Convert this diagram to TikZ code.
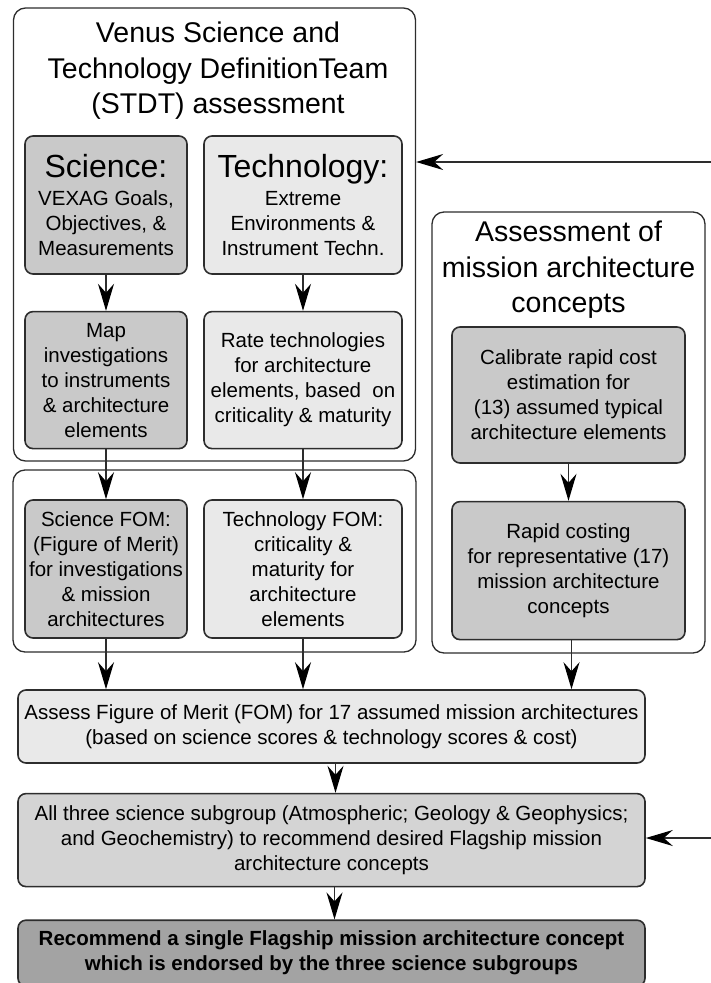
\documentclass[tikz,border=0pt]{standalone}
\usepackage{fontspec}
\setmainfont{Liberation Sans}
\usepackage{tikz}
\usetikzlibrary{positioning,arrows.meta}
\usepackage{xcolor}

\definecolor{edgegray}{RGB}{45,45,45}
\definecolor{darkfill}{RGB}{201,201,201}
\definecolor{lightfill}{RGB}{233,233,233}
\definecolor{midfill}{RGB}{212,212,212}
\definecolor{boldfill}{RGB}{163,163,163}
\newcommand{\flowfont}{\fontsize{20.5}{25}\selectfont}
\newcommand{\groupfont}{\fontsize{28.5}{35.5}\selectfont}
\newcommand{\bigfont}{\fontsize{32}{34}\selectfont}

\begin{document}
\begin{tikzpicture}[x=1pt, y=-1pt,
    darkbox/.style={rectangle, draw=edgegray, line width=1.6pt, fill=darkfill,
                    rounded corners=8pt, align=center, inner sep=2pt, font=\flowfont},
    lightbox/.style={darkbox, fill=lightfill},
    groupbox/.style={rectangle, draw=edgegray, line width=1.3pt, rounded corners=12pt},
    grouptitle/.style={align=center, font=\groupfont},
    arrow/.style={-{Stealth[length=27pt, width=16pt, inset=9pt, color=black]}, line width=1.2pt, draw=edgegray}
]
    \useasboundingbox (0,0) rectangle (711,983);

    % group frames
    \node[groupbox, minimum width=402pt, minimum height=453pt] (stdt) at (214.5,234.5) {};
    \node[groupbox, minimum width=403pt, minimum height=182pt] (fomgrp) at (214.5,561) {};
    \node[groupbox, minimum width=273pt, minimum height=441pt] (archgrp) at (568.5,432.5) {};

    \node[grouptitle] (stdttitle) at (218,71) {Venus Science and\\Technology DefinitionTeam\\(STDT) assessment};
    \node[grouptitle] (archtitle) at (568.5,270) {Assessment of\\mission architecture\\concepts};

    % STDT column boxes
    \node[darkbox, minimum width=162pt, minimum height=138pt] (sci) at (106,205)
        {{\bigfont Science:}\\[3pt] VEXAG Goals,\\Objectives, \&\\Measurements};
    \node[lightbox, minimum width=198pt, minimum height=138pt] (tech) at (303,205)
        {{\bigfont Technology:}\\[3pt] Extreme\\Environments \&\\Instrument Techn.};
    \node[darkbox, minimum width=162pt, minimum height=137pt, below=36pt of sci] (map)
        {Map\\investigations\\to instruments\\\& architecture\\elements};
    \node[lightbox, minimum width=198pt, minimum height=137pt, below=36pt of tech] (rate)
        {Rate technologies\\for architecture\\elements, based\ \ on\\criticality \& maturity};

    % FOM boxes
    \node[darkbox, minimum width=162pt, minimum height=138pt] (scifom) at (106,569)
        {Science FOM:\\(Figure of Merit)\\for investigations\\\& mission\\architectures};
    \node[lightbox, minimum width=198pt, minimum height=138pt] (techfom) at (303,569)
        {Technology FOM:\\criticality \&\\maturity for\\architecture\\elements};

    % cost boxes
    \node[darkbox, minimum width=233pt, minimum height=136pt] (calib) at (568.5,395)
        {Calibrate rapid cost\\estimation for\\(13) assumed typical\\architecture elements};
    \node[darkbox, minimum width=233pt, minimum height=138pt, below=37pt of calib] (rapid)
        {Rapid costing\\for representative (17)\\mission architecture\\concepts};

    % final chain
    \node[lightbox, minimum width=627pt, minimum height=73pt] (assess) at (331.5,726.5)
        {Assess Figure of Merit (FOM) for 17 assumed mission architectures\\(based on science scores \& technology scores \& cost)};
    \node[darkbox, fill=midfill, minimum width=627pt, minimum height=93pt, below=29pt of assess] (allthree)
        {All three science subgroup (Atmospheric; Geology \& Geophysics;\\and Geochemistry) to recommend desired Flagship mission\\architecture concepts};
    \node[darkbox, fill=boldfill, minimum width=627pt, minimum height=66pt, below=32pt of allthree,
          font=\flowfont\bfseries] (recommend)
        {Recommend a single Flagship mission architecture concept\\which is endorsed by the three science subgroups};

    \coordinate (fbtop) at (711,162);
    \coordinate (fbbot) at (711,838);

    \draw[arrow] (sci) -- (map);
    \draw[arrow] (tech.south) -- (tech.south |- rate.north);
    \draw[arrow] (map.south) -- (map.south |- scifom.north);
    \draw[arrow] (rate.south) -- (rate.south |- techfom.north);
    \draw[arrow] (calib) -- (rapid);
    \draw[arrow] (scifom.south) -- (scifom.south |- assess.north);
    \draw[arrow] (techfom.south) -- (techfom.south |- assess.north);
    \draw[arrow] ([xshift=3pt]rapid.south) -- ([xshift=3pt]rapid.south |- assess.north);
    \draw[arrow] ([xshift=4pt]assess.south) -- ([xshift=4pt]allthree.north);
    \draw[arrow] ([xshift=3pt]allthree.south) -- ([xshift=3pt]recommend.north);
    \draw[arrow] (fbtop) -- (fbtop -| stdt.east);
    \draw[arrow] (fbbot) -- (fbbot -| allthree.east);
\end{tikzpicture}
\end{document}
